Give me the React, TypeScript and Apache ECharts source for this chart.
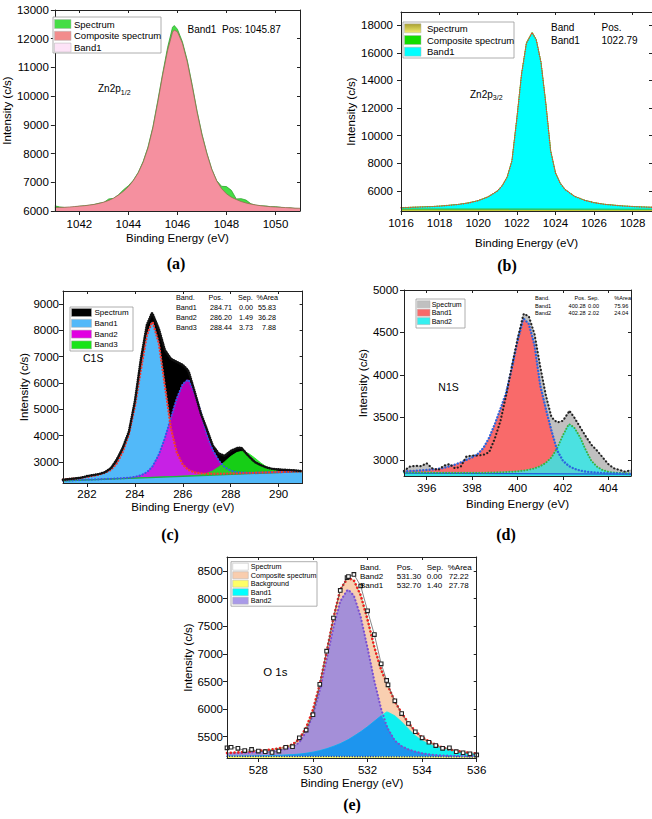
import React, { useEffect, useRef } from 'react';
import * as echarts from 'echarts';

const SANS = 'Arial, "Liberation Sans", Helvetica, sans-serif';
const SERIF = '"Times New Roman", "Liberation Serif", Times, serif';

// ---------- (a) Zn2p1/2 ----------
const aEnergy = [1041.0, 1041.2, 1041.4, 1041.6, 1041.8, 1042.0, 1042.2, 1042.4, 1042.6, 1042.8, 1043.0, 1043.2, 1043.4, 1043.6, 1043.8, 1044.0, 1044.2, 1044.4, 1044.6, 1044.8, 1045.0, 1045.2, 1045.4, 1045.6, 1045.8, 1045.87, 1046.0, 1046.2, 1046.4, 1046.6, 1046.8, 1047.0, 1047.2, 1047.4, 1047.6, 1047.8, 1048.0, 1048.2, 1048.4, 1048.6, 1048.8, 1049.0, 1049.2, 1049.4, 1049.6, 1049.8, 1050.0, 1050.2, 1050.4, 1050.6, 1050.8, 1051.0];
const aSpectrum = [6180, 6140, 6120, 6085, 6140, 6165, 6180, 6200, 6225, 6270, 6300, 6420, 6440, 6570, 6740, 6880, 7070, 7340, 7720, 8230, 8930, 9850, 10800, 11700, 12400, 12460, 12330, 11900, 11250, 10400, 9480, 8680, 8020, 7460, 7060, 6860, 6850, 6720, 6420, 6430, 6380, 6250, 6200, 6180, 6175, 6150, 6150, 6130, 6095, 6110, 6085, 6060];
const aComposite = [6120, 6125, 6130, 6140, 6155, 6170, 6185, 6205, 6230, 6265, 6310, 6370, 6450, 6560, 6690, 6850, 7060, 7330, 7700, 8200, 8900, 9800, 10750, 11600, 12230, 12300, 12240, 11850, 11200, 10350, 9450, 8650, 8000, 7450, 7050, 6780, 6600, 6480, 6400, 6330, 6280, 6240, 6210, 6185, 6165, 6150, 6140, 6130, 6120, 6110, 6100, 6095];
const aXTicks = [1042, 1044, 1046, 1048, 1050];
const aYTicks = [6000, 7000, 8000, 9000, 10000, 11000, 12000, 13000];

// ---------- (b) Zn2p3/2 ----------
const bEnergy = [1016, 1016.5, 1017, 1017.5, 1018, 1018.5, 1019, 1019.5, 1020, 1020.5, 1020.75, 1021, 1021.25, 1021.5, 1021.75, 1022, 1022.25, 1022.5, 1022.79, 1023, 1023.25, 1023.5, 1023.75, 1024, 1024.25, 1024.5, 1024.75, 1025, 1025.5, 1026, 1026.5, 1027, 1027.5, 1028, 1028.5, 1029];
const bSpectrum = [4780, 4820, 4830, 4870, 4890, 4970, 5020, 5150, 5290, 5580, 5770, 6020, 6380, 7020, 8180, 11250, 14480, 16750, 17480, 16980, 15280, 12330, 8880, 7320, 6540, 6120, 5840, 5610, 5320, 5160, 5030, 4980, 4900, 4880, 4830, 4820];
const bComposite = [4790, 4810, 4835, 4860, 4900, 4960, 5030, 5130, 5300, 5560, 5780, 6000, 6400, 7000, 8200, 11200, 14500, 16700, 17450, 16950, 15300, 12300, 8900, 7300, 6550, 6100, 5850, 5600, 5330, 5150, 5040, 4970, 4910, 4870, 4840, 4815];
const bBaseX = [1016, 1029];
const bBaseY = [4690, 4675];
const bXTicks = [1016, 1018, 1020, 1022, 1024, 1026, 1028];
const bYTicks = [6000, 8000, 10000, 12000, 14000, 16000, 18000];

// ---------- (c) C1s ----------
const cEnergy = [281, 281.25, 281.5, 281.75, 282, 282.25, 282.5, 282.75, 283, 283.25, 283.5, 283.75, 284, 284.25, 284.5, 284.71, 284.75, 285, 285.25, 285.5, 285.75, 286, 286.2, 286.25, 286.5, 286.75, 287, 287.25, 287.5, 287.75, 288, 288.25, 288.44, 288.5, 288.75, 289, 289.25, 289.5, 289.75, 290, 290.25, 290.5, 290.75, 291];
const cSpectrum = [2320, 2350, 2370, 2400, 2460, 2500, 2540, 2610, 2760, 3100, 3550, 4150, 5300, 6900, 8200, 8650, 8600, 8050, 7250, 6920, 6800, 6680, 6500, 6420, 5650, 4850, 4250, 3620, 3320, 3230, 3420, 3520, 3540, 3480, 3220, 3000, 2880, 2790, 2735, 2715, 2700, 2690, 2670, 2650];
const cBand1 = [2330, 2350, 2370, 2395, 2430, 2470, 2520, 2590, 2700, 2950, 3400, 4050, 5100, 6500, 7800, 8300, 8290, 7500, 5900, 4300, 3350, 2900, 2720, 2690, 2600, 2565, 2550, 2548, 2550, 2555, 2560, 2566, 2571, 2573, 2580, 2587, 2594, 2601, 2608, 2616, 2623, 2630, 2637, 2645];
const cBand2 = [2290, 2298, 2306, 2314, 2322, 2331, 2340, 2350, 2360, 2371, 2383, 2400, 2430, 2490, 2610, 2800, 2850, 3280, 3900, 4660, 5410, 5960, 6110, 6100, 5600, 4900, 4050, 3450, 3050, 2800, 2670, 2615, 2595, 2592, 2588, 2590, 2595, 2600, 2606, 2612, 2618, 2624, 2630, 2636];
const cBand3 = [2285, 2294, 2303, 2311, 2320, 2329, 2338, 2346, 2355, 2364, 2373, 2381, 2390, 2399, 2408, 2415, 2416, 2425, 2434, 2443, 2452, 2462, 2470, 2472, 2485, 2510, 2565, 2660, 2810, 3010, 3210, 3355, 3400, 3398, 3318, 3153, 2965, 2805, 2700, 2645, 2622, 2620, 2626, 2634];
const cBaseX = [281, 286, 291];
const cBaseY = [2280, 2455, 2630];
const cXTicks = [282, 284, 286, 288, 290];
const cYTicks = [3000, 4000, 5000, 6000, 7000, 8000, 9000];

// ---------- (d) N1s ----------
const dEnergy = [395, 395.25, 395.5, 395.75, 396, 396.25, 396.5, 396.75, 397, 397.25, 397.5, 397.75, 398, 398.25, 398.5, 398.75, 399, 399.25, 399.5, 399.75, 400, 400.25, 400.28, 400.5, 400.75, 401, 401.25, 401.5, 401.75, 402, 402.25, 402.28, 402.5, 402.75, 403, 403.25, 403.5, 403.75, 404, 404.25, 404.5, 404.75, 405];
const dSpectrum = [2870, 2920, 2930, 2925, 2960, 2900, 2880, 2930, 2950, 2900, 2920, 3040, 3050, 3050, 3060, 3090, 3250, 3460, 3760, 4100, 4420, 4700, 4720, 4690, 4480, 4100, 3760, 3500, 3440, 3460, 3560, 3580, 3500, 3390, 3280, 3180, 3110, 3030, 2950, 2900, 2880, 2860, 2880];
const dBand1 = [2865, 2868, 2872, 2876, 2880, 2886, 2893, 2905, 2925, 2945, 2970, 3000, 3030, 3070, 3140, 3260, 3420, 3600, 3790, 4080, 4400, 4650, 4660, 4600, 4350, 3880, 3600, 3340, 3110, 2990, 2930, 2925, 2895, 2875, 2862, 2855, 2850, 2845, 2842, 2840, 2838, 2836, 2834];
const dBand2 = [2852, 2852, 2851, 2851, 2850, 2850, 2849, 2849, 2848, 2848, 2848, 2848, 2848, 2848, 2849, 2850, 2852, 2854, 2857, 2861, 2866, 2873, 2874, 2884, 2900, 2925, 2965, 3030, 3140, 3290, 3415, 3420, 3380, 3270, 3120, 2990, 2920, 2880, 2860, 2850, 2845, 2842, 2840];
const dBaseX = [395, 405];
const dBaseY = [2845, 2832];
const dXTicks = [396, 398, 400, 402, 404];
const dYTicks = [3000, 3500, 4000, 4500, 5000];

// ---------- (e) O1s ----------
const eEnergy = [526.85, 527, 527.25, 527.5, 527.75, 528, 528.25, 528.5, 528.75, 529, 529.25, 529.5, 529.75, 530, 530.25, 530.5, 530.75, 531, 531.25, 531.3, 531.5, 531.75, 532, 532.25, 532.5, 532.7, 532.75, 533, 533.25, 533.5, 533.75, 534, 534.25, 534.5, 534.75, 535, 535.25, 535.5, 535.75, 536];
const eSpectrum = [5300, 5310, 5290, 5250, 5270, 5240, 5230, 5215, 5240, 5310, 5320, 5480, 5620, 5900, 6450, 7050, 7650, 8150, 8380, 8400, 8440, 8230, 7780, 7350, 6820, 6520, 6440, 6150, 5920, 5740, 5590, 5480, 5400, 5340, 5290, 5300, 5230, 5210, 5190, 5170];
const eComposite = [5206, 5210, 5217, 5225, 5233, 5244, 5256, 5270, 5291, 5318, 5360, 5460, 5662, 5988, 6448, 7035, 7650, 8165, 8360, 8375, 8330, 8060, 7620, 7120, 6710, 6480, 6415, 6140, 5930, 5750, 5600, 5490, 5415, 5355, 5305, 5270, 5245, 5225, 5208, 5195];
const eBand1 = [5148, 5149, 5150, 5151, 5152, 5154, 5156, 5159, 5163, 5168, 5175, 5185, 5200, 5220, 5248, 5282, 5325, 5375, 5435, 5448, 5510, 5590, 5680, 5780, 5880, 5950, 5945, 5880, 5770, 5640, 5520, 5430, 5370, 5320, 5280, 5250, 5230, 5215, 5200, 5190];
const eBand2 = [5198, 5200, 5205, 5210, 5215, 5222, 5230, 5240, 5255, 5275, 5310, 5400, 5590, 5900, 6340, 6900, 7480, 7950, 8150, 8160, 8055, 7670, 7110, 6510, 6000, 5700, 5640, 5430, 5330, 5270, 5230, 5200, 5180, 5168, 5160, 5155, 5152, 5150, 5148, 5146];
const eBaseX = [526.85, 536];
const eBaseY = [5145, 5135];
const eXTicks = [528, 530, 532, 534, 536];
const eYTicks = [5500, 6000, 6500, 7000, 7500, 8000, 8500];

// ---------- chart assembly ----------
const pts = (xs: number[], ys: number[]) => xs.map((x, i) => [x, ys[i]]);

type Axes = { x: number; y: number };
type Range = { min: number; max: number; ticks: number[]; margin: number; nameGap: number };

const grids: any[] = [];
const xAxes: any[] = [];
const yAxes: any[] = [];
const series: any[] = [];
const graphics: any[] = [];

const axisFont = (size = 11.5) => ({ fontFamily: SANS, fontSize: size, color: '#000' });
const frameLine = { show: true, onZero: false, lineStyle: { color: '#222', width: 1 } };
const tickLine = { color: '#222', width: 1 };
const plain = (v: number) => String(v);

function addPanel(rect: { left: number; top: number; width: number; height: number }, xr: Range, yr: Range): Axes {
  const gi = grids.length;
  grids.push({ ...rect, show: false });
  const common = { gridIndex: gi, type: 'value', splitLine: { show: false }, z: 50, silent: true };
  const x = xAxes.length;
  xAxes.push({
    ...common, position: 'bottom', min: xr.min, max: xr.max,
    name: 'Binding Energy (eV)', nameLocation: 'middle', nameGap: xr.nameGap, nameTextStyle: axisFont(),
    axisLine: frameLine,
    axisTick: { show: true, inside: false, length: 4, customValues: xr.ticks, lineStyle: tickLine },
    axisLabel: { show: true, customValues: xr.ticks, margin: xr.margin, formatter: plain, ...axisFont() },
  });
  xAxes.push({
    ...common, position: 'top', min: xr.min, max: xr.max,
    axisLine: frameLine,
    axisTick: { show: true, inside: true, length: 3, customValues: xr.ticks, lineStyle: tickLine },
    axisLabel: { show: false },
  });
  const y = yAxes.length;
  yAxes.push({
    ...common, position: 'left', min: yr.min, max: yr.max,
    name: 'Intensity (c/s)', nameLocation: 'middle', nameRotate: 90, nameGap: yr.nameGap, nameTextStyle: axisFont(),
    axisLine: frameLine,
    axisTick: { show: true, inside: false, length: 4, customValues: yr.ticks, lineStyle: tickLine },
    axisLabel: { show: true, customValues: yr.ticks, margin: yr.margin, formatter: plain, ...axisFont() },
  });
  yAxes.push({
    ...common, position: 'right', min: yr.min, max: yr.max,
    axisLine: frameLine,
    axisTick: { show: true, inside: true, length: 3, customValues: yr.ticks, lineStyle: tickLine },
    axisLabel: { show: false },
  });
  return { x, y };
}

let zCounter = 2;
function fill(ax: Axes, data: number[][], color: any, opts: { opacity?: number; line?: string; lineWidth?: number } = {}) {
  series.push({
    type: 'line', xAxisIndex: ax.x, yAxisIndex: ax.y, data, z: zCounter++,
    symbol: 'none', silent: true, animation: false,
    lineStyle: { color: opts.line ?? color, width: opts.lineWidth ?? 0.8 },
    areaStyle: { color, opacity: opts.opacity ?? 1, origin: 'start' },
  });
}
function dotted(ax: Axes, data: number[][], color: string, width = 2.4, gap = 3.4) {
  series.push({
    type: 'line', xAxisIndex: ax.x, yAxisIndex: ax.y, data, z: zCounter++,
    symbol: 'none', silent: true, animation: false,
    lineStyle: { color, width, type: [0.01, gap], cap: 'round' },
  });
}

function text(t: string, x: number, y: number, size: number, opts: { align?: string; bold?: boolean; family?: string } = {}) {
  const align = opts.align ?? 'left';
  graphics.push({
    type: 'text', x, y, z: 100, silent: true,
    style: {
      text: t, fill: '#000', fontSize: size, fontFamily: opts.family ?? SANS,
      fontWeight: opts.bold ? 'bold' : 'normal',
      textAlign: align, align, textVerticalAlign: 'middle', verticalAlign: 'middle',
    },
  });
}

function legendBox(
  box: { x: number; y: number; w: number; h: number },
  rows: { label: string; fill: any }[],
  o: { firstY: number; rowH: number; swX: number; swW: number; swH: number; textX: number; size: number },
) {
  graphics.push({
    type: 'rect', z: 99, silent: true,
    shape: { x: box.x, y: box.y, width: box.w, height: box.h },
    style: { fill: '#fff', stroke: '#9a9a9a', lineWidth: 0.8 },
  });
  rows.forEach((r, i) => {
    const cy = o.firstY + i * o.rowH;
    graphics.push({
      type: 'rect', z: 100, silent: true,
      shape: { x: o.swX, y: cy - o.swH / 2, width: o.swW, height: o.swH },
      style: { fill: r.fill, stroke: '#b0b0b0', lineWidth: 0.5 },
    });
    text(r.label, o.textX, cy, o.size);
  });
}

// (a)
const axA = addPanel(
  { left: 51, top: 10, width: 249, height: 201 },
  { min: 1041, max: 1051, ticks: aXTicks, margin: 7, nameGap: 21 },
  { min: 6000, max: 13000, ticks: aYTicks, margin: 6, nameGap: 35 },
);
zCounter = 2;
fill(axA, pts(aEnergy, aSpectrum), '#45DD45', { line: '#2FA52F' });
fill(axA, pts(aEnergy, aComposite), '#F5909F', { line: '#8F6F4F' });
legendBox({ x: 53, y: 17, w: 108, h: 36 }, [
  { label: 'Spectrum', fill: '#45DD45' },
  { label: 'Composite spectrum', fill: '#F28C8C' },
  { label: 'Band1', fill: '#FDE3F7' },
], { firstY: 24, rowH: 11.8, swX: 54.5, swW: 16.5, swH: 9, textX: 74, size: 9.5 });
text('Band1  Pos: 1045.87', 187.5, 29.5, 10);
text('Zn2p', 98, 88.5, 10);
text('1/2', 120.8, 92, 7);

// (b)
const axB = addPanel(
  { left: 401, top: 12, width: 257, height: 199 },
  { min: 1016, max: 1029, ticks: bXTicks, margin: 6, nameGap: 26 },
  { min: 4550, max: 18950, ticks: bYTicks, margin: 8, nameGap: 38 },
);
zCounter = 2;
fill(axB, pts(bEnergy, bSpectrum), '#D6D24A', { line: '#B8B040' });
fill(axB, pts(bEnergy, bComposite), '#22D822');
fill(axB, pts(bEnergy, bComposite), '#00FFFF', { line: '#4CC04C', lineWidth: 0.6 });
fill(axB, pts(bBaseX, bBaseY), '#C2C83A', { line: '#3CB83C', lineWidth: 1.2 });
dotted(axB, pts(bEnergy, bComposite), '#F03A2A', 1.4, 2.4);
legendBox({ x: 403, y: 22, w: 111, h: 36 }, [
  { label: 'Spectrum', fill: { type: 'linear', x: 0, y: 0, x2: 0, y2: 1, colorStops: [{ offset: 0, color: '#A8A030' }, { offset: 1, color: '#F2EC70' }] } },
  { label: 'Composite spectrum', fill: '#11DD00' },
  { label: 'Band1', fill: '#00FFFF' },
], { firstY: 28.3, rowH: 11.7, swX: 404.5, swW: 16.5, swH: 9, textX: 427, size: 9.5 });
text('Band', 551, 27, 10);
text('Pos.', 601.5, 27, 10);
text('Band1', 551, 40, 10);
text('1022.79', 601.5, 40, 10);
text('Zn2p', 470, 94, 10);
text('3/2', 492.8, 97.5, 7);

// (c)
const axC = addPanel(
  { left: 63, top: 291, width: 239.6, height: 192 },
  { min: 281, max: 291, ticks: cXTicks, margin: 5, nameGap: 18 },
  { min: 2200, max: 9490, ticks: cYTicks, margin: 4, nameGap: 30 },
);
zCounter = 2;
fill(axC, pts(cEnergy, cSpectrum), '#000000', { line: '#111' });
fill(axC, pts(cEnergy, cBand1), '#52B9F9');
fill(axC, pts(cEnergy, cBand2), '#E100E1', { opacity: 0.82 });
fill(axC, pts(cEnergy, cBand3), '#18E418', { opacity: 0.9 });
fill(axC, pts(cBaseX, cBaseY), '#52B9F9', { line: '#1FAF3F', lineWidth: 1.2 });
dotted(axC, pts(cEnergy, cBand2), '#2F5BE8', 2.2, 3.2);
dotted(axC, pts(cEnergy, cBand1), '#F23A30', 2.4, 3.2);
dotted(axC, pts(cEnergy, cSpectrum), '#111111', 2.6, 2.2);
legendBox({ x: 70, y: 307, w: 63, h: 44 }, [
  { label: 'Spectrum', fill: '#000000' },
  { label: 'Band1', fill: '#52B9F9' },
  { label: 'Band2', fill: '#E100E1' },
  { label: 'Band3', fill: '#18E418' },
], { firstY: 312.5, rowH: 10.8, swX: 71.5, swW: 20, swH: 8, textX: 94.5, size: 8 });
[
  ['Band.', 'Pos.', 'Sep.', '%Area'],
  ['Band1', '284.71', '0.00', '55.83'],
  ['Band2', '286.20', '1.49', '36.28'],
  ['Band3', '288.44', '3.73', '7.88'],
].forEach((row, i) => {
  const y = 297 + i * 10.2;
  text(row[0], 176, y, 7.2);
  if (i === 0) {
    text(row[1], 208.5, y, 7.2);
    text(row[2], 238, y, 7.2);
    text(row[3], 256.5, y, 7.2);
  } else {
    text(row[1], 232, y, 7.2, { align: 'right' });
    text(row[2], 253, y, 7.2, { align: 'right' });
    text(row[3], 276, y, 7.2, { align: 'right' });
  }
});
text('C1S', 83, 358, 10.5);

// (d)
const axD = addPanel(
  { left: 404, top: 290, width: 227, height: 186 },
  { min: 395, max: 405, ticks: dXTicks, margin: 5.5, nameGap: 22 },
  { min: 2810, max: 5000, ticks: dYTicks, margin: 5.5, nameGap: 30 },
);
zCounter = 2;
fill(axD, pts(dEnergy, dSpectrum), '#C0C0C0', { line: '#9a9a9a' });
fill(axD, pts(dEnergy, dBand1), '#F96A6A');
fill(axD, pts(dEnergy, dBand2), '#36E6E6', { opacity: 0.85 });
fill(axD, pts(dBaseX, dBaseY), '#36E6E6', { line: '#2255DD', lineWidth: 1.3 });
dotted(axD, pts(dEnergy, dBand2), '#3DAF3D', 2.0, 3.0);
dotted(axD, pts(dEnergy, dBand1), '#2A66E0', 2.4, 3.2);
dotted(axD, pts(dEnergy, dSpectrum), '#222222', 2.2, 3.6);
legendBox({ x: 416, y: 299, w: 49, h: 29 }, [
  { label: 'Spectrum', fill: '#C0C0C0' },
  { label: 'Band1', fill: '#F96A6A' },
  { label: 'Band2', fill: '#36F0F0' },
], { firstY: 304.3, rowH: 8.4, swX: 417.3, swW: 12.7, swH: 7, textX: 431.7, size: 7 });
[
  ['Band.', 'Pos.', 'Sep.', '%Area'],
  ['Band1', '400.28', '0.00', '75.96'],
  ['Band2', '402.28', '2.02', '24.04'],
].forEach((row, i) => {
  const y = 297.7 + i * 7.8;
  text(row[0], 535, y, 5.6);
  text(row[1], 585.7, y, 5.6, { align: 'right' });
  text(row[2], 599, y, 5.6, { align: 'right' });
  text(row[3], 614.3, y, 5.6);
});
text('N1S', 438.3, 386.7, 10.5);

// (e)
const axE = addPanel(
  { left: 227, top: 557, width: 249.7, height: 201 },
  { min: 526.85, max: 536, ticks: eXTicks, margin: 6, nameGap: 19 },
  { min: 5115, max: 8755, ticks: eYTicks, margin: 4, nameGap: 32 },
);
zCounter = 2;
const eOverlap = eBand1.map((v, i) => Math.min(v, eBand2[i]));
fill(axE, pts(eEnergy, eComposite), '#F9CFB0', { line: '#86D486', lineWidth: 1 });
fill(axE, pts(eEnergy, eBand2), '#A48FD8');
fill(axE, pts(eEnergy, eBand1), '#10F0F0');
fill(axE, pts(eEnergy, eOverlap), '#1D95EE');
fill(axE, pts(eBaseX, eBaseY), '#FFFF66', { line: '#FFFF66' });
dotted(axE, pts(eBaseX, eBaseY), '#1A3AB0', 1.6, 2.6);
dotted(axE, pts(eEnergy, eBand2), '#7A4FD0', 2.2, 3.6);
dotted(axE, pts(eEnergy, eComposite), '#F02020', 2.6, 3.8);
series.push({
  type: 'line', xAxisIndex: axE.x, yAxisIndex: axE.y, data: pts(eEnergy, eSpectrum), z: zCounter++,
  symbol: 'rect', symbolSize: 3.6, showSymbol: true, silent: true, animation: false,
  itemStyle: { color: '#ffffff', borderColor: '#222', borderWidth: 1.1 },
  lineStyle: { color: '#555', width: 0.7 },
});
legendBox({ x: 231, y: 561.7, w: 86, h: 44.5 }, [
  { label: 'Spectrum', fill: '#FFFFFF' },
  { label: 'Composite spectrum', fill: '#F9CDAE' },
  { label: 'Background', fill: '#FFFF66' },
  { label: 'Band1', fill: '#00FFFF' },
  { label: 'Band2', fill: '#A99AE8' },
], { firstY: 566.7, rowH: 8.5, swX: 232.7, swW: 15.6, swH: 7, textX: 250.7, size: 7.2 });
[
  ['Band.', 'Pos.', 'Sep.', '%Area'],
  ['Band2', '531.30', '0.00', '72.22'],
  ['Band1', '532.70', '1.40', '27.78'],
].forEach((row, i) => {
  const y = 567.3 + i * 9;
  text(row[0], 360, y, 8);
  text(row[1], 396.7, y, 8);
  text(row[2], 426.7, y, 8);
  text(row[3], i === 0 ? 447.7 : 448.7, y, 8);
});
text('O 1s', 263.3, 671.7, 11.4);

// panel captions
text('(a)', 176, 263, 16, { align: 'center', bold: true, family: SERIF });
text('(b)', 507, 265, 16, { align: 'center', bold: true, family: SERIF });
text('(c)', 170, 534, 16, { align: 'center', bold: true, family: SERIF });
text('(d)', 506, 534, 16, { align: 'center', bold: true, family: SERIF });
text('(e)', 352, 804, 16, { align: 'center', bold: true, family: SERIF });

const option = {
  animation: false,
  backgroundColor: '#ffffff',
  grid: grids,
  xAxis: xAxes,
  yAxis: yAxes,
  series,
  graphic: { elements: graphics },
};

export default function App() {
  const ref = useRef<HTMLDivElement>(null);
  useEffect(() => {
    if (!ref.current) return;
    const chart = echarts.init(ref.current, null, { renderer: 'svg' });
    chart.setOption(option as any);
    return () => chart.dispose();
  }, []);
  return (
    <div style={{ position: 'fixed', left: 0, top: 0, width: 652, height: 819, overflow: 'hidden', background: '#fff' }}>
      <div ref={ref} style={{ width: 652, height: 819 }} />
    </div>
  );
}
